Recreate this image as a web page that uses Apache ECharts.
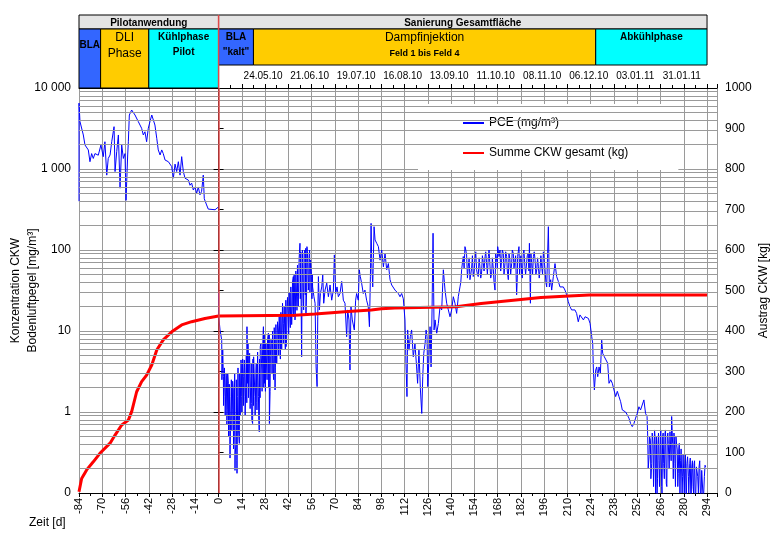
<!DOCTYPE html>
<html>
<head>
<meta charset="utf-8">
<script src="https://cdn.jsdelivr.net/npm/echarts@6/dist/echarts.min.js"></script>
<style>
  html, body { margin: 0; padding: 0; background: #fff; }
  #chart { width: 771px; height: 537px; }
</style>
</head>
<body>
<div id="chart"></div>
<script>
// Zeit [d] relativ zum Beginn der Sanierung Gesamtfläche (Tag 0)

// Kopfzeile: Abschnitte und Phasen
const headerGroups = [
    { name: 'Pilotanwendung', start: -84, end: 0 },
    { name: 'Sanierung Gesamtfläche', start: 0, end: 294 }
];
const phases = [
    { label: '{b|BLA}', start: -84, end: -71 },
    { label: '{n|DLI}\n{n|Phase}', start: -71, end: -42 },
    { label: '{b|Kühlphase}\n{b|Pilot}', start: -42, end: 0 },
    { label: '{b|BLA}\n{b|"kalt"}', start: 0, end: 21 },
    { label: '{n|Dampfinjektion}\n{s|Feld 1 bis Feld 4}', start: 21, end: 227 },
    { label: '{b|Abkühlphase}', start: 227, end: 294 }
];
const dateDays = [28, 56, 84, 112, 140, 168, 196, 224, 252, 280];
const dateLabels = ['24.05.10', '21.06.10', '19.07.10', '16.08.10', '13.09.10',
    '11.10.10', '08.11.10', '06.12.10', '03.01.11', '31.01.11'];

// PCE Bodenluft [mg/m³], Pilotphase
const pcePilot = [
    [-84, 400], [-84, 6500], [-83.4, 3840], [-81.4, 2630], [-80.4, 1980], [-78.4, 1720],
    [-77.4, 1230], [-76.4, 1550], [-75.4, 1350], [-74.4, 1550], [-72.4, 1480], [-70.8, 1980],
    [-69.4, 1420], [-68.4, 2170], [-67.3, 840], [-66.4, 1350], [-65.3, 1490], [-64.3, 2170],
    [-62.9, 3330], [-62.3, 930], [-61.3, 1640], [-60.3, 2630], [-59.3, 580], [-58.3, 1980],
    [-57.3, 1350], [-56.3, 1550], [-55.7, 410], [-54.7, 1490], [-54.3, 2170], [-53.7, 4640],
    [-52.3, 5350], [-51.3, 5610], [-50.3, 4640], [-48.3, 3840], [-46.3, 3180], [-45.3, 2630],
    [-44.3, 2880], [-43.3, 2170], [-42.3, 3180], [-41.3, 3840], [-40.2, 4640], [-39.3, 4870],
    [-38.3, 3490], [-37.2, 2390], [-36.3, 1720], [-35.2, 1490], [-34.2, 1720], [-33.3, 1550],
    [-32.2, 1290], [-30.2, 1230], [-28.2, 1070], [-27.2, 770], [-26.2, 1150], [-25.2, 930],
    [-24.2, 1230], [-23.2, 840], [-22.2, 1420], [-21.2, 930], [-20.2, 770], [-18.2, 730],
    [-17.2, 630], [-16.2, 670], [-15.2, 550], [-14.2, 600], [-13.2, 500], [-12.2, 600],
    [-11.2, 480], [-10.2, 530], [-9.2, 840], [-8.6, 430], [-7.2, 360], [-6.2, 320],
    [-2.1, 314], [0, 341]
];

// PCE Bodenluft [mg/m³], Sanierung Gesamtfläche (Einzelwerte)
const pceSanierung = [
    [0, 30.6], [0, 15], [0.3, 13.7], [0.9, 10.3], [1.9, 7.7], [2.3, 3.6], [2.9, 2.73],
    [3.9, 1.55], [4.5, 3.0], [5.3, 1.06], [5.9, 2.26], [6.9, 0.27], [7.5, 1.55], [8.3, 1.06],
    [8.9, 1.87], [9.5, 0.66], [9.9, 0.19], [10.5, 0.41], [11.1, 0.175], [11.5, 1.55],
    [11.9, 3.6], [12.5, 0.41], [12.9, 1.28], [13.5, 4.39], [13.9, 1.55], [14.9, 2.73],
    [15.5, 4.39], [15.9, 1.55], [16.5, 3.0], [17.1, 11.3], [17.5, 2.26], [17.9, 4.8],
    [18.7, 5.3], [19.5, 2.73], [19.9, 1.28], [20.5, 0.72], [21.1, 4.8], [21.9, 1.55],
    [22.5, 3.3], [23.1, 1.06], [24.0, 1.55], [24.5, 0.57], [25.1, 6.4], [26.0, 3.3],
    [27.0, 11.3], [27.6, 2.26], [28.0, 7.0], [29.0, 3.3], [30.0, 9.4], [30.6, 0.72],
    [31.2, 4.8], [32.0, 7.0], [33.0, 2.73], [33.6, 9.4], [34.0, 1.87], [34.6, 12.4],
    [35.2, 5.8], [36.0, 10.3], [37.0, 6.4], [37.6, 16.5], [38.6, 22], [39.2, 12.4],
    [40.0, 7.4], [40.6, 6.4], [41.2, 18.2], [42.0, 26.5], [43.0, 13.7], [43.6, 35],
    [44.4, 20], [45.0, 47], [46.0, 13.7], [47.0, 57], [47.6, 26.5], [48.4, 68], [49.0, 121],
    [49.6, 35], [50.0, 4.8], [50.6, 105], [51.2, 18.2], [52.0, 100], [52.6, 16.5],
    [53.2, 110], [54.0, 32], [54.8, 100], [55.4, 75], [56.0, 47], [56.6, 35], [57.4, 26.5],
    [58.1, 22], [58.7, 3.6], [59.3, 2.06], [59.7, 15], [60.1, 47], [60.7, 18.2], [61.3, 29],
    [62.1, 35], [62.7, 49], [63.3, 22], [64.1, 32], [65.1, 39], [66.1, 26.5], [67.1, 37],
    [68.1, 24], [69.1, 32], [69.7, 87], [70.5, 29], [71.3, 35], [72.1, 26.5], [73.1, 29],
    [74.1, 41], [75.1, 24], [76.1, 22], [77.1, 8.5], [77.7, 18.2], [78.5, 13.7], [79.1, 3.3],
    [79.7, 20], [80.5, 13.7], [81.7, 10.3], [82.5, 24], [83.1, 29], [84.1, 24], [84.7, 57],
    [85.3, 47], [86.1, 39], [87.1, 29], [88.1, 32], [89.1, 24], [90.1, 20], [90.8, 11.3],
    [91.4, 47], [91.8, 213], [92.2, 68], [92.8, 35], [93.6, 194], [94.2, 133], [95.2, 121],
    [96.2, 110], [97.2, 75], [98.2, 100], [99.2, 62], [100.2, 91], [101.2, 57], [102.2, 68],
    [103.2, 43], [104.2, 37], [105.2, 35], [106.2, 32], [107.2, 33], [108.2, 29],
    [109.2, 26.5], [110.2, 29], [111.2, 25], [112.2, 13.7], [112.8, 4.0], [113.4, 1.55],
    [113.8, 10.3], [114.6, 5.8], [115.4, 8.5], [116.2, 10.3], [117.2, 4.8], [118.2, 7.0],
    [119.2, 3.6], [119.8, 2.26], [120.6, 5.8], [121.5, 1.87], [122.3, 0.96], [122.9, 2.73],
    [123.5, 5.3], [124.3, 7.0], [124.9, 10.3], [125.5, 8.5], [125.9, 2.06], [126.5, 4.0],
    [127.3, 11.3], [127.9, 3.6], [128.5, 18.2], [129.1, 161], [129.7, 10.3], [130.3, 13.7],
    [131.3, 9.4], [132.3, 12.4], [133.3, 20], [134.3, 18.2], [135.3, 57], [136.3, 32],
    [137.3, 22], [138.3, 18.2], [139.3, 15], [140.3, 18.2], [141.3, 26.5], [142.3, 22],
    [143.3, 16.5], [144.3, 26.5], [145.3, 35], [146.3, 57], [147.3, 83], [148.3, 110],
    [149.3, 87], [150.3, 62], [151.3, 43], [152.3, 59], [153.3, 47], [154.3, 75], [155.3, 57],
    [156.3, 47], [157.3, 62], [158.3, 52], [159.4, 68], [160.4, 83], [161.4, 65], [162.4, 83],
    [163.4, 62], [164.4, 52], [165.4, 57], [166.4, 32], [167.4, 75], [168.0, 110], [168.8, 83],
    [169.4, 100], [170.4, 75], [171.4, 91], [172.4, 68], [173.4, 83], [174.4, 43], [175.4, 75],
    [176.4, 68], [177.4, 91], [178.4, 57], [179.4, 28], [180.0, 83], [180.8, 110], [181.6, 75],
    [182.4, 52], [183.4, 91], [184.4, 62], [185.4, 52], [186.4, 91], [187.1, 121], [187.7, 22],
    [188.5, 68], [189.5, 83], [190.5, 75], [191.5, 57], [192.5, 62], [193.5, 57], [194.5, 62],
    [195.5, 95], [196.5, 57], [197.5, 35], [198.5, 194], [199.1, 35], [199.9, 43], [200.5, 32],
    [201.5, 47], [202.5, 68], [203.5, 47], [204.5, 41], [205.5, 35], [206.5, 37], [207.5, 35],
    [208.5, 32], [209.5, 28], [210.5, 23], [211.5, 20], [212.5, 18.2], [213.5, 17.3],
    [214.5, 18.2], [215.5, 16.5], [216.5, 13], [217.5, 15.8], [218.5, 15], [219.6, 13.7],
    [220.6, 15], [221.6, 15.8], [222.6, 14.3], [223.6, 12.4], [224.6, 8.5], [225.2, 7.0],
    [225.6, 3.3], [226.2, 1.87], [227.0, 3.3], [227.6, 3.6], [228.2, 2.73], [229.0, 3.6],
    [229.8, 3.0], [230.6, 7.7], [231.2, 5.3], [232.2, 4.8], [233.2, 4.39], [234.2, 4.0],
    [235.0, 2.26], [236.0, 2.5], [237.0, 2.26], [238.0, 1.87], [239.0, 1.55], [240.0, 1.8],
    [241.0, 1.55], [242.0, 1.34], [243.0, 1.06], [244.0, 1.1], [245.0, 1.0], [246.0, 0.92],
    [247.0, 0.84], [248.0, 0.72], [249.0, 0.66], [250.0, 0.72], [251.0, 0.84], [252.0, 0.96],
    [253.0, 1.16], [254.0, 1.06], [255.0, 1.1], [256.0, 1.41], [257.0, 0.96], [257.9, 0.88],
    [258.3, 0.5], [259.1, 0.28], [259.9, 0.45], [260.7, 0.23], [261.5, 0.41], [262.1, 0.12],
    [262.7, 0.5], [263.3, 0.23], [263.9, 0.09], [264.5, 0.41], [265.1, 0.25], [265.9, 0.5],
    [266.7, 0.12], [267.3, 0.5], [267.9, 0.23], [268.7, 0.55], [269.5, 0.13], [270.1, 0.5],
    [270.7, 0.41], [271.7, 0.57], [272.7, 0.88], [273.3, 0.41], [274.1, 0.55], [274.7, 0.23],
    [275.3, 0.5], [276.1, 0.34], [276.7, 0.175], [277.3, 0.41], [278.1, 0.25], [278.7, 0.34],
    [279.3, 0.16], [279.9, 0.31], [280.7, 0.23], [281.3, 0.1], [281.9, 0.23], [282.8, 0.16],
    [283.6, 0.23], [284.2, 0.1], [284.8, 0.21], [285.6, 0.12], [286.2, 0.23], [286.8, 0.1],
    [287.6, 0.21], [288.4, 0.16], [289.2, 0.21], [290.0, 0.1], [290.8, 0.19], [291.6, 0.09],
    [292.4, 0.16], [293.2, 0.21]
];

const pceDicht = [
    [2.0, 2.5], [2.5, 6], [3.0, 1.2], [3.5, 3.5], [4.0, 0.9], [4.7, 2.8], [5.0, 0.7], [5.5, 3],
    [6.0, 0.5], [6.5, 2.2], [7.0, 0.4], [7.7, 2.5], [8.0, 0.6], [8.5, 2.4], [9.0, 0.35],
    [9.7, 3], [10.0, 0.3], [10.7, 2.5], [11.0, 0.25], [11.7, 3.5], [12.0, 0.6], [12.7, 3],
    [13.0, 0.9], [13.7, 3.8], [14.0, 1.0], [14.5, 4.5], [15.0, 1.2], [15.7, 3.5], [16.0, 0.9],
    [16.7, 5], [17.0, 1.3], [17.7, 7], [18.0, 1.5], [18.5, 5], [19.0, 1.1], [19.7, 4],
    [20.0, 0.8], [20.7, 4.5], [21.0, 1.2], [21.5, 5], [22.0, 0.9], [22.7, 4], [23.0, 1.3],
    [23.5, 5.5], [24.2, 0.8], [24.7, 4.5], [25.0, 1.5], [25.5, 7], [26.2, 1.8], [26.5, 6],
    [27.2, 2.0], [27.5, 9], [28.2, 1.8], [28.5, 7], [29.2, 2.5], [29.5, 8], [30.2, 2.0],
    [30.5, 9], [31.0, 1.8], [31.5, 8], [32.2, 3], [32.5, 10], [33.2, 2.5], [33.5, 11],
    [34.2, 3.5], [34.5, 12], [35.0, 4], [35.5, 13], [36.2, 5], [36.5, 15], [37.2, 4.5],
    [37.5, 17], [38.0, 6], [38.5, 22], [39.0, 7], [39.5, 20], [40.2, 6], [40.5, 24],
    [41.0, 8], [41.5, 26], [42.2, 9], [42.5, 30], [43.2, 11], [43.5, 35], [44.0, 12],
    [44.5, 40], [45.2, 15], [45.5, 50], [46.2, 16], [46.5, 55], [47.2, 18], [47.5, 65],
    [48.0, 20], [48.5, 80], [49.2, 25], [49.5, 95], [50.2, 22], [50.5, 100], [51.0, 25],
    [51.5, 90], [52.2, 28], [52.5, 105], [53.0, 30], [53.5, 95], [54.2, 35], [54.5, 85],
    [55.0, 30], [55.5, 70], [56.2, 25], [56.5, 50],
    [145.8, 40], [146.8, 70], [147.8, 60], [148.8, 100], [149.8, 45], [150.8, 80], [151.8, 50],
    [152.8, 85], [153.8, 55], [154.8, 95], [155.8, 50], [156.8, 80], [157.8, 45], [158.8, 85],
    [159.8, 55], [160.8, 95], [161.8, 50], [162.8, 100], [163.8, 45], [164.8, 80], [165.8, 40],
    [166.8, 90], [167.8, 60], [168.4, 105], [169.8, 55], [170.8, 100], [171.8, 50], [172.8, 95],
    [173.8, 55], [174.8, 90], [175.8, 50], [176.8, 100], [177.8, 60], [178.8, 85], [179.8, 45],
    [180.4, 95], [181.2, 50], [182.0, 85], [182.8, 45], [183.8, 100], [184.8, 50], [185.8, 85],
    [186.8, 55], [188.0, 90], [189.0, 50], [190.0, 95], [191.0, 50], [192.0, 80], [193.0, 45],
    [194.0, 85], [195.0, 50], [196.0, 75], [197.0, 40],
    [258.6, 0.2], [259.4, 0.5], [260.2, 0.15], [261.0, 0.55], [261.8, 0.12], [262.4, 0.6],
    [263.0, 0.1], [263.6, 0.5], [264.2, 0.15], [264.8, 0.55], [265.4, 0.12], [266.2, 0.6],
    [266.9, 0.1], [267.6, 0.55], [268.3, 0.15], [269.0, 0.6], [269.8, 0.12], [270.4, 0.55],
    [271.2, 0.2], [272.0, 0.6], [272.4, 0.25], [273.0, 0.6], [273.7, 0.15], [274.4, 0.45],
    [275.0, 0.12], [275.7, 0.4], [276.4, 0.12], [277.0, 0.35], [277.7, 0.1], [278.4, 0.35],
    [279.0, 0.1], [279.6, 0.3], [280.3, 0.1], [281.0, 0.3], [281.6, 0.09], [282.3, 0.28],
    [283.0, 0.1], [283.9, 0.27], [284.5, 0.09], [285.2, 0.25], [285.9, 0.1], [286.5, 0.25],
    [287.2, 0.09], [288.0, 0.22], [288.8, 0.1], [289.6, 0.25], [290.4, 0.09], [291.2, 0.2],
    [292.0, 0.1], [292.8, 0.22]
];

// Summe CKW gesamt [kg]
const ckwSumme = [
    [-84, 3], [-82.4, 36], [-79.4, 57], [-75.4, 77], [-71.4, 98], [-65.3, 123], [-62.3, 143],
    [-58.3, 168], [-54.3, 180], [-52.3, 201], [-49.3, 250], [-46.3, 275], [-43.3, 291],
    [-40.2, 316], [-37.2, 353], [-33.3, 378], [-28.2, 398], [-22.2, 415], [-16.2, 423],
    [-8.2, 431], [0, 437], [46, 439], [58, 442], [78, 448], [92, 452], [98, 455], [106, 457],
    [143, 460], [158, 468], [182, 478], [194, 483], [208, 486], [223, 489], [294, 489]
];

// Log-Hilfslinien 2..9 je Dekade
const logDecades = [0.1, 1, 10, 100, 1000];
const logSteps = [2, 3, 4, 5, 6, 7, 8, 9];

const FONT = '"Liberation Sans", Arial, sans-serif';
const ROW1 = 14 / 73;
const ROW2 = 50 / 73;

const phaseStyles = [
    { fill: '#3366FF', full: true, valign: 'middle' },
    { fill: '#FFCC00', full: true, valign: 'top' },
    { fill: '#00FFFF', full: true, valign: 'top' },
    { fill: '#3366FF', full: false, valign: 'top' },
    { fill: '#FFCC00', full: false, valign: 'top' },
    { fill: '#00FFFF', full: false, valign: 'top' }
];

const richText = {
    n: { fontFamily: FONT, fontSize: 12, lineHeight: 16, fill: '#000' },
    b: { fontFamily: FONT, fontSize: 10, fontWeight: 'bold', lineHeight: 15, fill: '#000' },
    s: { fontFamily: FONT, fontSize: 9, fontWeight: 'bold', lineHeight: 16, fill: '#000' }
};

const chart = echarts.init(document.getElementById('chart'));

const logLevels = [];
logDecades.forEach(function (d) {
    logSteps.forEach(function (s) {
        logLevels.push({ yAxis: d * s });
    });
});

// Einzelwerte und dichte Abschnitte zeitlich zusammenführen
const pceMain = pceSanierung.concat(pceDicht).sort(function (a, b) { return a[0] - b[0]; });

const groupSeries = {
    type: 'custom',
    xAxisIndex: 2,
    yAxisIndex: 2,
    silent: true,
    data: headerGroups.map(function (g) { return [g.start, g.end]; }),
    renderItem: function (params, api) {
        const cs = params.coordSys;
        const g = headerGroups[params.dataIndex];
        const x0 = api.coord([g.start, 0])[0];
        const x1 = api.coord([g.end, 0])[0];
        const y0 = cs.y;
        const y1 = cs.y + cs.height * ROW1;
        return {
            type: 'group',
            children: [
                { type: 'rect', shape: { x: x0, y: y0, width: x1 - x0, height: y1 - y0 },
                  style: { fill: '#E4E4E4', stroke: '#000', lineWidth: 1 } },
                { type: 'text', style: { text: g.name, x: (x0 + x1) / 2, y: (y0 + y1) / 2 + 1,
                  align: 'center', verticalAlign: 'middle', fontFamily: FONT, fontSize: 10,
                  fontWeight: 'bold', fill: '#000' } }
            ]
        };
    }
};

const phaseSeries = {
    type: 'custom',
    xAxisIndex: 2,
    yAxisIndex: 2,
    silent: true,
    data: phases.map(function (p) { return [p.start, p.end]; }),
    renderItem: function (params, api) {
        const cs = params.coordSys;
        const p = phases[params.dataIndex];
        const st = phaseStyles[params.dataIndex];
        const x0 = api.coord([p.start, 0])[0];
        const x1 = api.coord([p.end, 0])[0];
        const y0 = cs.y + cs.height * ROW1;
        const y1 = st.full ? cs.y + cs.height : cs.y + cs.height * ROW2;
        const rowMid = (cs.y + cs.height * ROW1 + cs.y + cs.height * ROW2) / 2;
        return {
            type: 'group',
            children: [
                { type: 'rect', shape: { x: x0, y: y0, width: x1 - x0, height: y1 - y0 },
                  style: { fill: st.fill, stroke: '#000', lineWidth: 1 } },
                { type: 'text', style: { text: p.label, rich: richText, x: (x0 + x1) / 2,
                  y: st.valign === 'middle' ? rowMid - 2 : y0 + 1,
                  align: 'center', verticalAlign: st.valign } }
            ]
        };
    }
};

const dateSeries = {
    type: 'custom',
    xAxisIndex: 2,
    yAxisIndex: 2,
    silent: true,
    data: dateDays,
    renderItem: function (params, api) {
        const cs = params.coordSys;
        const x = api.coord([dateDays[params.dataIndex], 0])[0];
        const y = (cs.y + cs.height * ROW2 + cs.y + cs.height) / 2;
        return {
            type: 'text',
            style: { text: dateLabels[params.dataIndex], x: x - 2, y: y,
                align: 'center', verticalAlign: 'middle', fontFamily: FONT, fontSize: 10, fill: '#000' }
        };
    }
};

const startLineSeries = {
    type: 'custom',
    xAxisIndex: 2,
    yAxisIndex: 2,
    silent: true,
    z: 5,
    data: [0],
    renderItem: function (params, api) {
        const cs = params.coordSys;
        const x = api.coord([0, 0])[0];
        return {
            type: 'line',
            shape: { x1: x, y1: cs.y, x2: x, y2: cs.y + cs.height },
            style: { stroke: '#E04848', lineWidth: 1.5 }
        };
    }
};

const option = {
    animation: false,
    backgroundColor: '#fff',
    textStyle: { fontFamily: FONT },
    title: {
        text: 'Zeit [d]',
        left: 24,
        top: 512,
        textStyle: { fontFamily: FONT, fontSize: 12, fontWeight: 'normal', color: '#000' }
    },
    legend: {
        left: 418,
        top: 104,
        orient: 'vertical',
        backgroundColor: '#fff',
        padding: [13, 50, 11, 45],
        itemGap: 18,
        itemWidth: 21,
        itemHeight: 2,
        icon: 'rect',
        data: ['PCE (mg/m³)', 'Summe CKW gesamt (kg)'],
        textStyle: { fontFamily: FONT, fontSize: 12, color: '#000' }
    },
    grid: [
        { left: 79, right: 54, top: 88, bottom: 44, outerBoundsMode: 'none', containLabel: false },
        { left: 79, right: 54, top: 15, height: 73, outerBoundsMode: 'none', containLabel: false }
    ],
    xAxis: [
        {
            type: 'value', gridIndex: 0, min: -84, max: 300, interval: 14,
            axisLine: { lineStyle: { color: '#000' } },
            axisTick: { length: 4, lineStyle: { color: '#000' } },
            minorTick: { show: true, splitNumber: 2, length: 3, lineStyle: { color: '#000' } },
            axisLabel: { rotate: 90, color: '#000', fontSize: 11, margin: 5, showMaxLabel: false },
            splitLine: { show: true, lineStyle: { color: '#9a9a9a', width: 1 } }
        },
        {
            type: 'value', gridIndex: 0, position: 'top', min: -84, max: 300, interval: 14,
            axisLine: { lineStyle: { color: '#000' } },
            axisTick: { length: 4, lineStyle: { color: '#000' } },
            minorTick: { show: true, splitNumber: 2, length: 3, lineStyle: { color: '#000' } },
            axisLabel: { show: false },
            splitLine: { show: false }
        },
        { type: 'value', gridIndex: 1, min: -84, max: 300, show: false }
    ],
    yAxis: [
        {
            type: 'log', gridIndex: 0, logBase: 10, min: 0.1, max: 10000,
            name: 'Konzentration CKW\nBodenluftpegel [mg/m³]',
            nameLocation: 'middle', nameRotate: 90, nameGap: 38, nameMoveOverlap: false,
            nameTextStyle: { fontFamily: FONT, fontSize: 12, color: '#000', lineHeight: 17 },
            axisLine: { show: true, lineStyle: { color: '#000' } },
            axisTick: { show: true, length: 5, lineStyle: { color: '#000' } },
            axisLabel: {
                color: '#000', fontSize: 12, margin: 8,
                formatter: function (v) {
                    if (v < 1) return '0';
                    return String(Math.round(v)).replace(/\B(?=(\d{3})+(?!\d))/g, ' ');
                }
            },
            splitLine: { show: true, lineStyle: { color: '#9a9a9a', width: 1 } }
        },
        {
            type: 'value', gridIndex: 0, position: 'right', min: 0, max: 1000, interval: 100,
            name: 'Austrag CKW [kg]',
            nameLocation: 'middle', nameRotate: 90, nameGap: 41, nameMoveOverlap: false,
            nameTextStyle: { fontFamily: FONT, fontSize: 12, color: '#000' },
            axisLine: { show: true, lineStyle: { color: '#000' } },
            axisTick: { show: true, length: 5, lineStyle: { color: '#000' } },
            axisLabel: {
                color: '#000', fontSize: 12, margin: 8,
                formatter: function (v) { return String(v); }
            },
            splitLine: { show: false }
        },
        { type: 'value', gridIndex: 1, min: 0, max: 1, show: false }
    ],
    series: [
        {
            name: 'logGrid',
            type: 'line',
            xAxisIndex: 0,
            yAxisIndex: 0,
            data: [],
            z: 1,
            silent: true,
            markLine: {
                silent: true,
                symbol: 'none',
                label: { show: false },
                lineStyle: { color: '#9a9a9a', width: 1, type: 'solid' },
                data: logLevels
            }
        },
        {
            name: 'PCE (mg/m³)',
            type: 'line',
            xAxisIndex: 0,
            yAxisIndex: 0,
            showSymbol: false,
            connectNulls: false,
            z: 3,
            lineStyle: { color: '#0000FF', width: 1 },
            itemStyle: { color: '#0000FF' },
            data: pcePilot.concat([[0, null]], pceMain)
        },
        {
            name: 'Summe CKW gesamt (kg)',
            type: 'line',
            xAxisIndex: 0,
            yAxisIndex: 1,
            showSymbol: false,
            z: 4,
            lineStyle: { color: '#FF0000', width: 3 },
            itemStyle: { color: '#FF0000' },
            data: ckwSumme,
            markLine: {
                silent: true,
                symbol: 'none',
                label: { show: false },
                lineStyle: { color: '#E04848', width: 1.5, type: 'solid' },
                data: [{ xAxis: 0 }]
            }
        },
        groupSeries,
        phaseSeries,
        dateSeries,
        startLineSeries
    ]
};

chart.setOption(option);
</script>
</body>
</html>
